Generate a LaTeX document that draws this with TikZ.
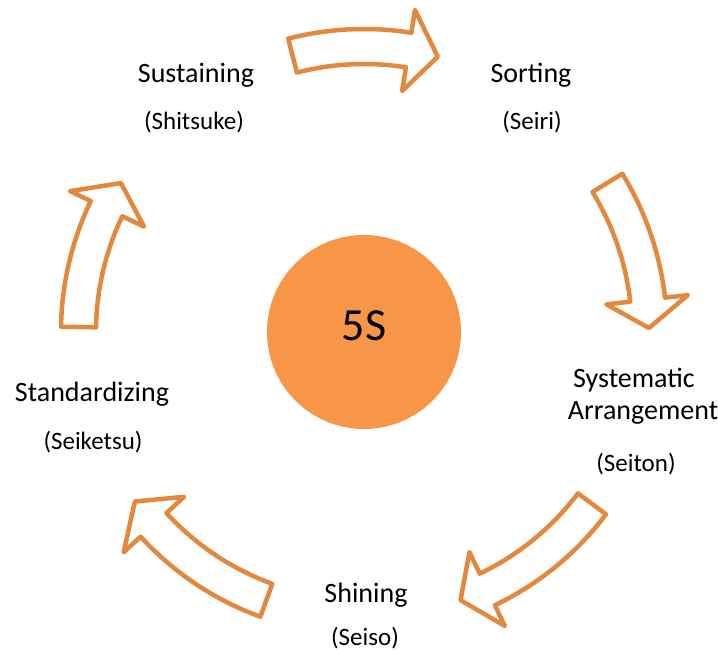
\documentclass[tikz,border=0pt]{standalone}
\usepackage{fontspec}
\setmainfont{Carlito}
\definecolor{pfeilorange}{RGB}{227,137,62}
\definecolor{kreisorange}{RGB}{247,150,70}

\begin{document}
\begin{tikzpicture}[x=1pt, y=1pt,
    pfeil/.style={draw=pfeilorange, line width=4.5pt, line join=round, fill=white},
    titel/.style={font=\fontsize{28}{32}\selectfont, anchor=base},
    jap/.style={font=\fontsize{25}{28}\selectfont, anchor=base}]
    \useasboundingbox (-364,-318) rectangle (354,332);

    % Kreis in der Mitte
    \node[circle, fill=kreisorange, minimum size=194pt, inner sep=0pt] (kreis) at (0,0) {};
    \node[font=\fontsize{46}{50}\selectfont, yshift=6pt] (fuenfs) at (kreis.center) {5S};

    % Pfeile (im Uhrzeigersinn)
    \draw[pfeil] (104.5:303) arc[start angle=104.5, end angle=81, radius=303pt] -- (81:326) -- (75:285) -- (81:244) -- (81:268) arc[start angle=81, end angle=104.5, radius=268pt] -- cycle;
    \draw[pfeil] (31.5:303) arc[start angle=31.5, end angle=6.5, radius=303pt] -- (6.5:326) -- (0.8:285) -- (6.5:244) -- (6.5:268) arc[start angle=6.5, end angle=31.5, radius=268pt] -- cycle;
    \draw[pfeil] (-37:303) arc[start angle=-37, end angle=-64.4, radius=303pt] -- (-64.4:326) -- (-70.2:285) -- (-64.4:244) -- (-64.4:268) arc[start angle=-64.4, end angle=-37, radius=268pt] -- cycle;
    \draw[pfeil] (-110:303) arc[start angle=-110, end angle=-137.5, radius=303pt] -- (-137.5:326) -- (-143.5:285) -- (-137.5:244) -- (-137.5:268) arc[start angle=-137.5, end angle=-110, radius=268pt] -- cycle;
    \draw[pfeil] (179:303) arc[start angle=179, end angle=154.4, radius=303pt] -- (154.4:326) -- (148.5:285) -- (154.4:244) -- (154.4:268) arc[start angle=154.4, end angle=179, radius=268pt] -- cycle;

    % Beschriftungen
    \node[titel] (sorting) at (167,249) {Sorting};
    \node[jap] (seiri) at (168,202) {(Seiri)};
    \node[titel] (systematic) at (270,-56) {Systematic};
    \node[titel] (arrangement) at (279,-88) {Arrangement};
    \node[jap] (seiton) at (272,-140) {(Seiton)};
    \node[titel] (shining) at (2,-270) {Shining};
    \node[jap] (seiso) at (1,-313) {(Seiso)};
    \node[titel] (standardizing) at (-272,-70) {Standardizing};
    \node[jap] (seiketsu) at (-271,-118) {(Seiketsu)};
    \node[titel] (sustaining) at (-168,249) {Sustaining};
    \node[jap] (shitsuke) at (-170,202) {(Shitsuke)};
\end{tikzpicture}
\end{document}
